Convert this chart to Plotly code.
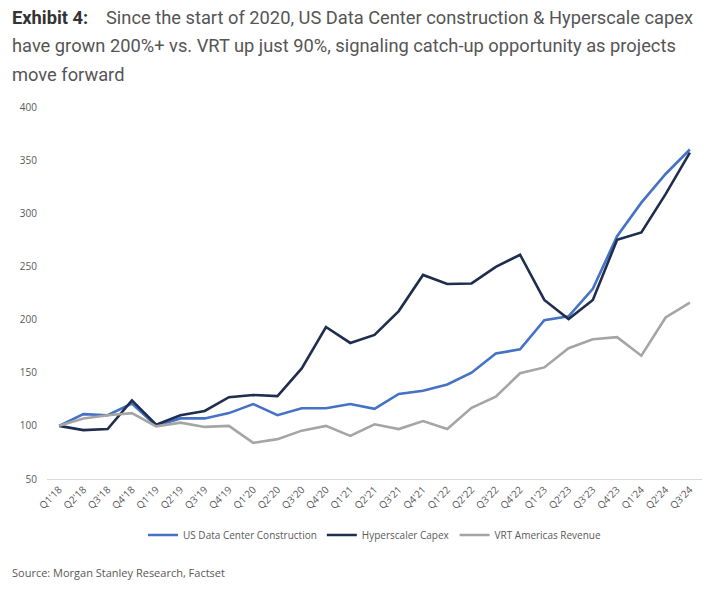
import plotly.graph_objects as go

quarters = ["Q1'18", "Q2'18", "Q3'18", "Q4'18", "Q1'19", "Q2'19", "Q3'19", "Q4'19",
            "Q1'20", "Q2'20", "Q3'20", "Q4'20", "Q1'21", "Q2'21", "Q3'21", "Q4'21",
            "Q1'22", "Q2'22", "Q3'22", "Q4'22", "Q1'23", "Q2'23", "Q3'23", "Q4'23",
            "Q1'24", "Q2'24", "Q3'24"]

us_dc_construction = [100, 111, 110, 121, 100, 107, 107, 112, 120.5, 110, 116.5, 116.5,
                      120.5, 116, 130, 133, 139, 150, 168, 172, 199.5, 203, 229, 278.5,
                      310, 337, 360]

hyperscaler_capex = [100, 96, 97, 124, 101, 110, 114, 127, 129, 128, 154, 193,
                     178, 185.5, 208, 242, 233.5, 234, 249.5, 261, 218.5, 200.5, 218.5, 275,
                     282, 318, 357]

vrt_americas_revenue = [100, 107, 110, 112, 99.5, 103, 99, 100, 84, 87.5, 95.5, 100,
                        90.5, 101.5, 97, 104.5, 97, 117, 127.5, 149.5, 155, 173, 181.5, 183.5,
                        166, 202, 216]

series_names = ["US Data Center Construction", "Hyperscaler Capex", "VRT Americas Revenue"]
series_colors = ["#4472C4", "#1F2D4E", "#A5A5A5"]
y_ticks = [50, 100, 150, 200, 250, 300, 350, 400]

# page offset (browser body margin)
OFF = 8
W, H = 715 - OFF, 590 - OFF
# plot area in screen pixels: x 47..702, y 107..479
L = 47 - OFF
T = 107 - OFF
R = W - (702 - OFF)
B = H - (479 - OFF)
PW, PH = W - L - R, H - T - B


def px_x(px):
    return (px - OFF - L) / PW


def px_y(py):
    return (H - B - (py - OFF)) / PH


fig = go.Figure()
for name, vals, col in zip(series_names,
                           [us_dc_construction, hyperscaler_capex, vrt_americas_revenue],
                           series_colors):
    fig.add_trace(go.Scatter(x=quarters, y=vals, mode="lines", name=name,
                             line=dict(color=col, width=2.6), hoverinfo="skip"))

axis_font = dict(family="Open Sans, Liberation Sans, sans-serif", size=10, color="#595959")

fig.update_layout(
    width=W, height=H,
    margin=dict(l=L, r=R, t=T, b=B, pad=0),
    paper_bgcolor="white", plot_bgcolor="white",
    showlegend=True,
    legend=dict(orientation="h", x=0.5, xanchor="center", y=px_y(535), yanchor="middle",
                font=dict(family="Open Sans, Liberation Sans, sans-serif", size=10, color="#595959"),
                itemwidth=30, tracegroupgap=0, bgcolor="rgba(0,0,0,0)"),
    xaxis=dict(type="category", tickangle=-45, tickfont=axis_font, showgrid=False,
               showline=True, linecolor="#D9D9D9", linewidth=1, ticks="", zeroline=False,
               range=[-0.5, len(quarters) - 0.5]),
    yaxis=dict(range=[50, 400], tickvals=y_ticks, tickfont=axis_font, showgrid=False,
               showline=False, zeroline=False, ticks="", ticklabelstandoff=9),
    font=dict(family="Roboto, sans-serif"),
)

title_font = dict(family="Roboto, sans-serif", size=18.3, color="#555555")
fig.add_annotation(x=px_x(10), y=px_y(17), xref="paper", yref="paper", xanchor="left",
                   yanchor="middle", showarrow=False, text="<b>Exhibit 4:</b>",
                   font=dict(family="Roboto, sans-serif", size=18.3, color="#333333"))
fig.add_annotation(x=px_x(104), y=px_y(17), xref="paper", yref="paper", xanchor="left",
                   yanchor="middle", showarrow=False,
                   text="Since the start of 2020, US Data Center construction & Hyperscale capex",
                   font=title_font)
fig.add_annotation(x=px_x(10), y=px_y(46), xref="paper", yref="paper", xanchor="left",
                   yanchor="middle", showarrow=False,
                   text="have grown 200%+ vs. VRT up just 90%, signaling catch-up opportunity as projects",
                   font=title_font)
fig.add_annotation(x=px_x(10), y=px_y(74), xref="paper", yref="paper", xanchor="left",
                   yanchor="middle", showarrow=False, text="move forward", font=title_font)
fig.add_annotation(x=px_x(10), y=px_y(572), xref="paper", yref="paper", xanchor="left",
                   yanchor="middle", showarrow=False,
                   text="Source: Morgan Stanley Research, Factset",
                   font=dict(family="Open Sans, Liberation Sans, sans-serif", size=11, color="#595959"))

fig.write_html("out.html")
